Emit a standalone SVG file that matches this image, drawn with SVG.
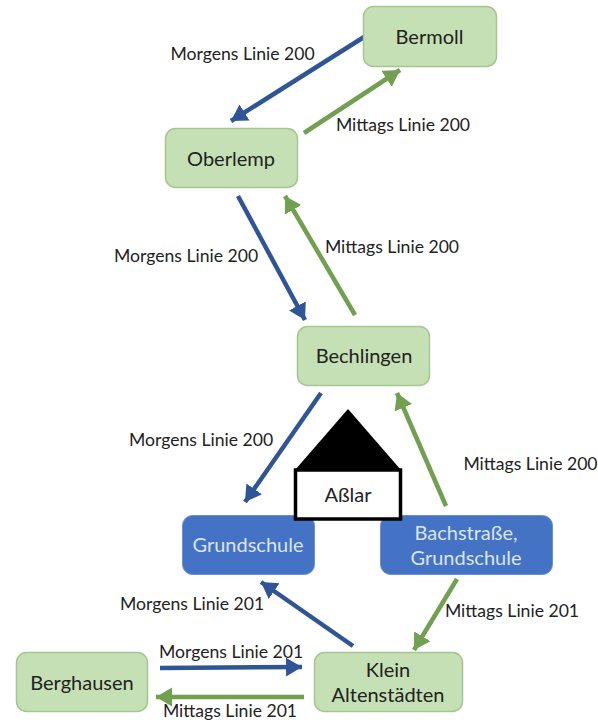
<svg xmlns="http://www.w3.org/2000/svg" width="598" height="720" viewBox="0 0 598 720">
<style>
text{font-family:"Lato","Open Sans",sans-serif;font-size:20px;fill:#222}
#labels text{font-size:17.600px;text-anchor:middle}
.n rect{fill:#c5e0b4;stroke:#a3c78e;stroke-width:1.5}
.s rect{fill:#4472c4;stroke:#6a8fd2;stroke-width:1}
.s text{fill:#dbe5f5}
.n text,.s text,#asslar text{text-anchor:middle}
.b{stroke:#2f5597;stroke-width:4.500;fill:none;marker-end:url(#mb)}
.g{stroke:#70a050;stroke-width:4.500;fill:none;marker-end:url(#mg)}
</style>
<defs>
<marker id="mb" markerUnits="userSpaceOnUse" markerWidth="20" markerHeight="20" refX="16" refY="9.500" orient="auto"><path d="M0 0L16 9.500L0 19Z" fill="#2f5597"/></marker>
<marker id="mg" markerUnits="userSpaceOnUse" markerWidth="20" markerHeight="20" refX="16" refY="9.500" orient="auto"><path d="M0 0L16 9.500L0 19Z" fill="#70a050"/></marker>
</defs>
<rect width="598" height="720" fill="#fff"/>
<g id="connectors">
<line class="b" x1="364" y1="37" x2="231" y2="121"/>
<line class="g" x1="304" y1="133" x2="400" y2="70"/>
<line class="b" x1="238" y1="196" x2="305" y2="320"/>
<line class="g" x1="355" y1="315" x2="285" y2="196"/>
<line class="b" x1="321" y1="393" x2="245" y2="502"/>
<line class="g" x1="446" y1="506" x2="397" y2="393"/>
<line class="g" x1="457" y1="579" x2="414" y2="650"/>
<line class="b" x1="353" y1="646" x2="261" y2="582"/>
<line class="b" x1="160" y1="668" x2="302" y2="667"/>
<line class="g" x1="304" y1="697" x2="156" y2="697"/>
</g>
<g id="labels">
<text x="242.500" y="60">Morgens Linie 200</text>
<text x="403" y="131">Mittags Linie 200</text>
<text x="186" y="262">Morgens Linie 200</text>
<text x="392" y="253">Mittags Linie 200</text>
<text x="201" y="446">Morgens Linie 200</text>
<text x="530.500" y="470">Mittags Linie 200</text>
<text x="192" y="610">Morgens Linie 201</text>
<text x="512" y="617">Mittags Linie 201</text>
<text x="231" y="658">Morgens Linie 201</text>
<text x="230" y="717">Mittags Linie 201</text>
</g>
<g id="bermoll" class="n"><rect x="363.500" y="6.500" width="133" height="60" rx="10"/><text x="429.500" y="44">Bermoll</text></g>
<g id="oberlemp" class="n"><rect x="165.500" y="128.500" width="132" height="59" rx="10"/><text x="231" y="166">Oberlemp</text></g>
<g id="bechlingen" class="n"><rect x="297.500" y="326.500" width="132" height="59" rx="10"/><text x="364" y="363">Bechlingen</text></g>
<g id="grundschule" class="s"><rect x="182.500" y="515.500" width="132" height="59" rx="10"/><text x="248" y="552">Grundschule</text></g>
<g id="bachstrasse" class="s"><rect x="380.500" y="515.500" width="172" height="59" rx="10"/><text x="466" y="540">Bachstraße,</text><text x="466" y="565">Grundschule</text></g>
<g id="asslar"><path d="M348 409L295 470H401Z" fill="#000"/><rect x="295.500" y="470" width="105" height="49" fill="#fff" stroke="#000" stroke-width="3.500"/><text x="348" y="502">Aßlar</text></g>
<g id="klein" class="n"><rect x="314.500" y="652.500" width="148" height="59" rx="10"/><text x="388" y="677">Klein</text><text x="388" y="702">Altenstädten</text></g>
<g id="berghausen" class="n"><rect x="16.500" y="652.500" width="131" height="59" rx="10"/><text x="82" y="690">Berghausen</text></g>
</svg>
